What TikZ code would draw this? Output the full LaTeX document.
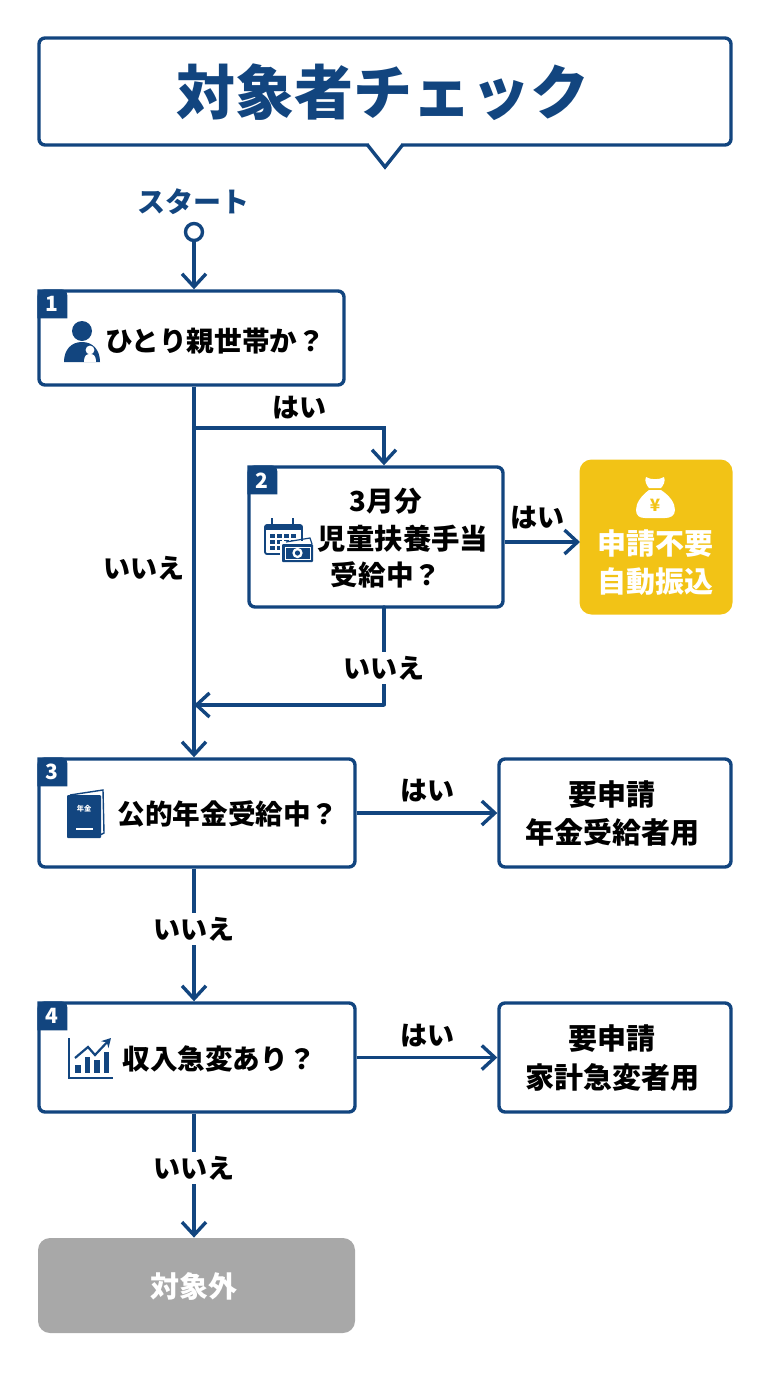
\documentclass[tikz,border=0pt]{standalone}
\usepackage{fontspec}
\setmainfont{Noto Sans CJK JP}
\usetikzlibrary{arrows.meta}
\definecolor{navy}{HTML}{12457F}
\definecolor{gold}{HTML}{F2C316}
\definecolor{graybox}{HTML}{A8A8A8}
\tikzset{
	box/.style={draw=navy, line width=1.7pt, rounded corners=3pt, fill=white, inner sep=0pt},
	solid box/.style={rounded corners=6pt, inner sep=0pt},
	link/.style={draw=navy, line width=1.7pt, -{Straight Barb[length=6.5pt,width=12pt,line width=1.7pt]}},
	plain link/.style={draw=navy, line width=1.7pt},
	txt/.style={font=\fontsize{13.8}{15}\selectfont\bfseries, inner sep=0pt, text=black},
	bigtxt/.style={font=\fontsize{14.5}{16}\selectfont\bfseries, inner sep=0pt, text=black},
	lbl/.style={font=\fontsize{13.5}{15}\selectfont\bfseries, inner sep=2pt, text=black},
	whitetxt/.style={font=\fontsize{14.5}{16}\selectfont\bfseries, inner sep=0pt, text=white},
	badge/.style={font=\fontsize{10.5}{12}\selectfont\bfseries, inner sep=0pt, text=white}
}
\begin{document}
\begin{tikzpicture}[x=0.5pt,y=-0.5pt]
	\useasboundingbox (0,0) rectangle (768,1376);
	
	% title
	\node[box, minimum width=346pt, minimum height=53.5pt] (titlebox) at (385,91.5) {};
	\fill[white] (369,142) rectangle (401,148);
	\fill[white] (368,145) -- (385,167) -- (402,145) -- cycle;
	\draw[navy, line width=1.7pt, line join=miter] (367.5,145) -- (385,167) -- (402.5,145);
	\node[font=\fontsize{29.5}{32}\selectfont\bfseries, text=navy, inner sep=0pt] (title) at (383,92) {対象者チェック};
	
	\node[font=\fontsize{14}{16}\selectfont\bfseries, text=navy, inner sep=0pt] (startlabel) at (193,202) {スタート};
	\node[circle, draw=navy, line width=1.7pt, fill=white, minimum size=8.5pt, inner sep=0pt] (start) at (194,232) {};
	
	% boxes
	\node[box, minimum width=152.5pt, minimum height=47pt] (q1) at (191.5,338) {};
	\node[box, minimum width=127pt, minimum height=70pt] (q2) at (376,537) {};
	\node[box, minimum width=158pt, minimum height=54pt] (q3) at (197,813) {};
	\node[box, minimum width=158pt, minimum height=54.5pt] (q4) at (197,1057.5) {};
	\node[box, minimum width=116pt, minimum height=54pt] (r3) at (615,813) {};
	\node[box, minimum width=116pt, minimum height=54.5pt] (r4) at (615,1057.5) {};
	\node[solid box, fill=gold, minimum width=76.5pt, minimum height=77.5pt] (auto) at (656,537) {};
	\node[solid box, fill=graybox, minimum width=158.5pt, minimum height=47.5pt] (none) at (196.5,1285.5) {};
	
	\foreach \b/\n in {q1/1,q2/2,q3/3,q4/4} {
		\fill[navy, rounded corners=3pt] (\b.north west) -- ([xshift=15pt]\b.north west) [sharp corners] -- ([xshift=15pt,yshift=-14.5pt]\b.north west) -- ([yshift=-14.5pt]\b.north west) -- cycle;
		\node[badge] (badge\n) at ([xshift=7.5pt,yshift=-7.5pt]\b.north west) {\n};
	}
	
	% box texts
	\node[txt] (t1) at (215,341) {ひとり親世帯か？};
	\node[txt] (t2a) at (386,501) {3月分};
	\node[txt, font=\fontsize{14.2}{15}\selectfont\bfseries] (t2b) at (403,539) {児童扶養手当};
	\node[txt] (t2c) at (386,575) {受給中？};
	\node[txt] (t3) at (228,814) {公的年金受給中？};
	\node[txt] (t4) at (219,1059) {収入急変あり？};
	\node[bigtxt] (r3a) at (612,795) {要申請};
	\node[bigtxt] (r3b) at (612,832) {年金受給者用};
	\node[bigtxt] (r4a) at (612,1039) {要申請};
	\node[bigtxt] (r4b) at (612,1077) {家計急変者用};
	\node[whitetxt] (autoa) at (655,544) {申請不要};
	\node[whitetxt] (autob) at (655,582) {自動振込};
	\node[whitetxt] (nonet) at (194,1286) {対象外};
	
	% connectors
	\coordinate (branch) at (194,428);
	\coordinate (merge) at (194,705);
	\coordinate (down2) at (384,607);
	\coordinate (turn2) at (384,705);
	\coordinate (yes2end) at (580,542);
	\draw[link] (start) -- (start |- q1.north);
	\draw[link] (start |- q1.south) -- (start |- q3.north);
	\draw[link] (branch) -| (down2 |- q2.north);
	\draw[plain link, line cap=round] (down2) -- (turn2);
	\draw[link] (turn2) -- (merge);
	\draw[link] (q2.east |- yes2end) -- (yes2end);
	\draw[link] (q3.east) -- (r3.west);
	\draw[link] (q4.east) -- (r4.west);
	\draw[link] (start |- q3.south) -- (start |- q4.north);
	\draw[link] (start |- q4.south) -- (start |- none.north);
	
	\node[lbl] (yes1) at (299,408) {はい};
	\node[lbl] (no1) at (144,568) {いいえ};
	\node[lbl] (yes2) at (537,518) {はい};
	\node[lbl, fill=white] (no2) at (384,668) {いいえ};
	\node[lbl] (yes3) at (427,791) {はい};
	\node[lbl, fill=white] (no3) at (194,929) {いいえ};
	\node[lbl] (yes4) at (427,1036) {はい};
	\node[lbl, fill=white] (no4) at (194,1168) {いいえ};
	
	% person icon
	\fill[navy] (82,331) circle (5pt);
	\fill[navy] (64,362) .. controls (64,350) and (71,342) .. (82,342) .. controls (93,342) and (100,350) .. (100,362) -- cycle;
	\fill[white] (90,350) circle (2.2pt);
	\fill[white] (84,362) .. controls (84,356) and (86,354) .. (90,354) .. controls (94,354) and (96,356) .. (96,362) -- cycle;
	
	% calendar icon
	\draw[navy, line width=.9pt, rounded corners=1pt] (265,525) rectangle (302,554);
	\fill[navy] (265,525) rectangle (302,530);
	\draw[navy, line width=.9pt] (272,518) -- (272,526) (293,518) -- (293,526);
	\foreach \x in {270,277,284,291} \foreach \y in {534,540,546} \fill[navy] (\x,\y) rectangle +(4.5,3.5);
	\fill[white] (280,541) rectangle (316,564);
	\draw[navy, line width=.6pt] (286,542) -- (310,538) -- (312,544);
	\fill[navy, rounded corners=.5pt] (282,544) rectangle (313,562);
	\draw[white, line width=.4pt] (285,547) rectangle (310,559);
	\fill[white] (297.5,553) circle (2.6pt);
	\fill[navy] (297.5,553) circle (1.3pt);
	
	% book icon
	\draw[navy, line width=.7pt] (70,795) -- (103,790) -- (104,833) -- (100,835);
	\fill[navy, rounded corners=.5pt] (67,795) rectangle (101,838);
	\node[font=\fontsize{3.6}{4}\selectfont\bfseries, text=white, inner sep=0pt] (booktxt) at (84,809) {年金};
	\draw[white, line width=.6pt] (76,829) -- (93,829);
	
	% chart icon
	\draw[navy, line width=1pt] (69,1038) -- (69,1078) -- (113,1078);
	\foreach \x/\y in {75/1065,84.5/1057,94/1060,103.5/1052} \fill[navy] (\x,\y) rectangle (\x+5.5,1073);
	\draw[navy, line width=1.1pt, -{Stealth[length=4.5pt,width=5pt]}] (75,1058) -- (88,1047) -- (95,1055) -- (111,1038);
	
	% money bag icon
	\fill[white] (646,477) .. controls (651,480) and (659,480) .. (664,477) .. controls (666,481) and (663,486) .. (661,488) -- (649,488) .. controls (647,486) and (644,481) .. (646,477) -- cycle;
	\fill[white] (649,490) -- (661,490) .. controls (670,496) and (675,503) .. (675,510) .. controls (675,516) and (670,518) .. (665,518) -- (645,518) .. controls (640,518) and (636,516) .. (636,510) .. controls (636,503) and (641,496) .. (649,490) -- cycle;
	\node[font=\fontsize{8.5}{9}\selectfont\bfseries, text=gold, inner sep=0pt] (yen) at (655,505) {¥};
\end{tikzpicture}
\end{document}
